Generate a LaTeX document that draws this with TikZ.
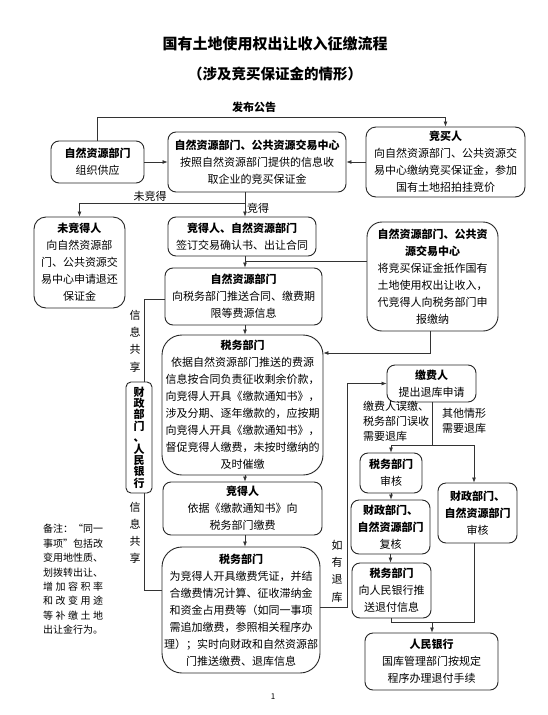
\documentclass[tikz,border=0pt]{standalone}
\usepackage{fontspec}
\setmainfont{Noto Sans CJK SC}
\usetikzlibrary{arrows.meta}
\newcommand\bodyfnt{\fontsize{11}{17}\selectfont}
\newcommand\spl[1]{\makebox[60pt]{#1}}
\begin{document}
\begin{tikzpicture}[x=1pt,y=-1pt,
  box/.style={draw=black!85, line width=0.9pt, rounded corners=8pt, align=center, inner sep=0pt, font=\bodyfnt},
  conn/.style={draw=black!80, line width=0.7pt},
  arr/.style={conn, -{Latex[length=5pt,width=4pt]}},
  lbl/.style={font=\bodyfnt, inner sep=0pt, align=center}]
\useasboundingbox[fill=white] (0,0) rectangle (547,715);

% titles
\node[inner sep=0pt, font=\fontsize{15}{18}\selectfont\bfseries] (t1) at (275,44) {国有土地使用权出让收入征缴流程};
\node[inner sep=0pt, font=\fontsize{14.5}{18}\selectfont\bfseries] (t2) at (275,74) {（涉及竞买保证金的情形）};
\node[inner sep=0pt, font=\fontsize{11}{13}\selectfont\bfseries] (pub) at (254,107) {发布公告};

% boxes
\node[box, minimum width=93pt, minimum height=42pt] (b1) at (97.5,162) {\textbf{自然资源部门}\\组织供应};
\node[box, minimum width=178pt, minimum height=60pt] (b2) at (257,162) {\textbf{自然资源部门、公共资源交易中心}\\按照自然资源部门提供的信息收\\取企业的竞买保证金};
\node[box, minimum width=159pt, minimum height=70pt, rounded corners=10pt] (b3) at (445.5,162) {\textbf{竞买人}\\向自然资源部门、公共资源交\\易中心缴纳竞买保证金，参加\\国有土地招拍挂竞价};
\node[box, minimum width=91pt, minimum height=91pt, rounded corners=12pt] (b4) at (79.5,262.5) {\textbf{未竞得人}\\向自然资源部\\门、公共资源交\\易中心申请退还\\保证金};
\node[box, minimum width=148pt, minimum height=39pt] (b5) at (242,236.5) {\textbf{竞得人、自然资源部门}\\签订交易确认书、出让合同};
\node[box, minimum width=131pt, minimum height=109pt, rounded corners=15pt] (b6) at (432.5,276.5) {\textbf{自然资源部门、公共资}\\\textbf{源交易中心}\\将竞买保证金抵作国有\\土地使用权出让收入，\\代竞得人向税务部门申\\报缴纳};
\node[box, minimum width=157pt, minimum height=57pt] (b7) at (243.5,296.5) {\textbf{自然资源部门}\\向税务部门推送合同、缴费期\\限等费源信息};
\node[box, minimum width=161pt, minimum height=140pt, rounded corners=20pt] (b8) at (242.5,405) {\textbf{税务部门}\\依据自然资源部门推送的费源\\信息按合同负责征收剩余价款，\\向竞得人开具《缴款通知书》，\\涉及分期、逐年缴款的，应按期\\向竞得人开具《缴款通知书》，\\督促竞得人缴费，未按时缴纳的\\及时催缴};
\node[box, minimum width=159pt, minimum height=53pt] (b9) at (242.5,508.5) {\textbf{竞得人}\\依据《缴款通知书》向\\税务部门缴费};
\node[box, minimum width=158pt, minimum height=126pt, rounded corners=20pt] (b10) at (241,610) {\textbf{税务部门}\\为竞得人开具缴费凭证，并结\\合缴费情况计算、征收滞纳金\\和资金占用费等（如同一事项\\需追加缴费，参照相关程序办\\理）；实时向财政和自然资源部\\门推送缴费、退库信息};
\node[box, minimum width=89pt, minimum height=37pt] (b11) at (431.5,383.5) {\textbf{缴费人}\\提出退库申请};
\node[box, minimum width=62pt, minimum height=40pt] (b12) at (391,473) {\textbf{税务部门}\\审核};
\node[box, minimum width=79pt, minimum height=54pt] (b13) at (390.5,527) {\textbf{财政部门、}\\\textbf{自然资源部门}\\复核};
\node[box, minimum width=79pt, minimum height=55pt] (b14) at (391.5,590.5) {\textbf{税务部门}\\向人民银行推\\送退付信息};
\node[box, minimum width=79pt, minimum height=60pt] (b15) at (477.5,513) {\textbf{财政部门、}\\\textbf{自然资源部门}\\审核};
\node[box, minimum width=133pt, minimum height=57pt] (b16) at (431.5,661.5) {\textbf{人民银行}\\国库管理部门按规定\\程序办理退付手续};
\node[box, minimum width=26pt, minimum height=111pt, rounded corners=5pt, font=\fontsize{11}{11.4}\selectfont\bfseries] (vb) at (139,437.5) {财\\政\\部\\门\\、\\人\\民\\银\\行};

% labels
\node[lbl] (l1) at (150,196) {未竞得};
\node[lbl] (l2) at (258,208) {竞得};
\node[lbl, font=\fontsize{11}{17.3}\selectfont] (l3) at (135,341) {信\\息\\共\\享};
\node[lbl, font=\fontsize{11}{17}\selectfont] (l4) at (135,533) {信\\息\\共\\享};
\node[lbl, font=\fontsize{11}{17.4}\selectfont] (l5) at (337,571) {如\\有\\退\\库};
\node[lbl, align=left, font=\fontsize{11}{15}\selectfont, anchor=north west] (l6) at (363,401) {缴费人误缴、\\税务部门误收\\需要退库};
\node[lbl, align=left, font=\fontsize{11}{15}\selectfont, anchor=north west] (l7) at (442,408) {其他情形\\需要退库};
\node[lbl, align=left, font=\fontsize{10}{14.4}\selectfont] (note) at (73,579.5) {\spl{备\hfill 注\hfill ：\hfill “同\hfill 一}\\\spl{事\hfill 项”\hfill 包\hfill 括\hfill 改}\\\spl{变\hfill 用\hfill 地\hfill 性\hfill 质\hfill 、}\\\spl{划\hfill 拨\hfill 转\hfill 出\hfill 让\hfill 、}\\\spl{增\hfill 加\hfill 容\hfill 积\hfill 率}\\\spl{和\hfill 改\hfill 变\hfill 用\hfill 途}\\\spl{等\hfill 补\hfill 缴\hfill 土\hfill 地}\\\spl{出\hfill 让\hfill 金\hfill 行\hfill 为\hfill 。}};
\node[lbl, font=\fontsize{8}{10}\selectfont] (pg) at (273,697) {1};

% connectors
\coordinate (top) at (0,117);
\draw[arr] (b1.north) -- (b1.north |- top) -| (b3.north);
\draw[arr] (b1.east) -- (b2.west);
\draw[arr] (b3.west) -- (b2.east);
\coordinate (j1) at (245,203);
\draw[conn] (b2.south -| j1) -- (j1);
\draw[arr] (j1) -| (b4.north);
\draw[arr] (j1) -- (b5.north -| j1);
\coordinate (j2) at (245,261);
\draw[arr] (b5.south -| j2) -- (b7.north -| j2);
\draw[conn] (b6.west |- j2) -- (j2);
\draw[arr] (b7.south -| j2) -- (b8.north -| j2);
\coordinate (j3) at (430,353);
\draw[arr] (b6.south -| j3) -- (j3) -- (b8.east |- j3);
\draw[arr] (b8.south -| j2) -- (b9.north -| j2);
\draw[arr] (b9.south -| j2) -- (b10.north -| j2);
\coordinate (r1) at (347,607);
\draw[arr] (b10.east |- r1) -- (r1) |- (b11.west);
\coordinate (s1) at (432,445);
\coordinate (s2) at (474,445);
\draw[conn] (b11.south -| s1) -- (s1);
\draw[arr] (s1) -| (b12.north);
\draw[arr] (s1) -- (s2) -- (b15.north -| s2);
\draw[arr] (b12.south) -- (b12.south |- b13.north);
\draw[arr] (b13.south) -- (b13.south |- b14.north);
\coordinate (m1) at (432,622);
\draw[conn] (b14.south) |- (m1);
\draw[conn] (b15.south -| s2) |- (m1);
\draw[arr] (m1) -- (m1 |- b16.north);
\coordinate (v1) at (144,299);
\draw[conn] (b7.west |- v1) -- (v1) -- (v1 |- vb.north);
\coordinate (v2) at (144,590);
\draw[conn] (v1 |- vb.south) -- (v2) -- (b10.west |- v2);
\end{tikzpicture}
\end{document}
